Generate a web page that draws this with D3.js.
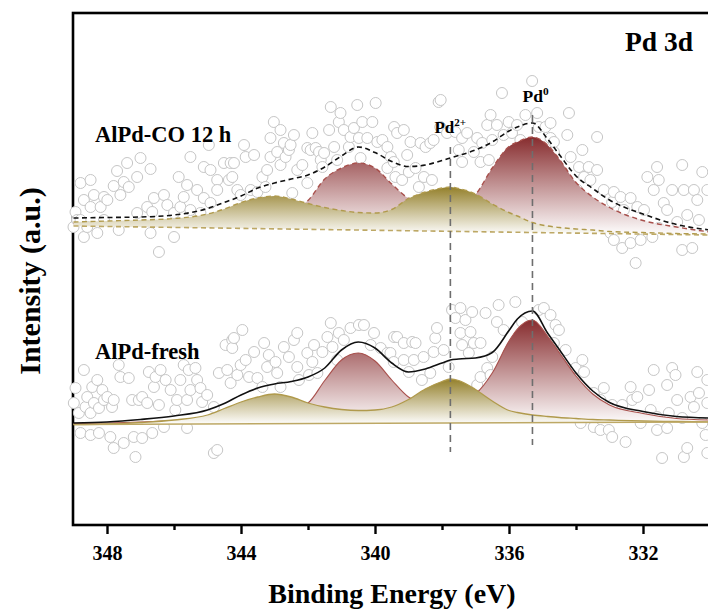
<!DOCTYPE html>
<html>
<head>
<meta charset="utf-8">
<script src="https://cdn.jsdelivr.net/npm/d3@7/dist/d3.min.js"></script>
<style>
  html, body { margin: 0; padding: 0; background: #fff; }
  svg text { font-family: "Liberation Serif", "Times New Roman", serif; font-weight: bold; }
</style>
</head>
<body>
<svg id="chart" width="708" height="615"></svg>
<script>
const fitE = [349, 348, 347, 346, 345, 344.5, 344, 343.5, 343, 342.5, 342, 341.5, 341, 340.5, 340,
  339.5, 339, 338.5, 338, 337.75, 337.5, 337, 336.5, 336, 335.75, 335.3, 334.85, 334.5, 334,
  333.5, 333, 332, 331, 330];

// AlPd-CO 12 h fit (dashed)
const coEnvelope = [61.4, 61.5, 61.6, 62.0, 63.3, 64.5, 65.8, 67.4, 68.4, 69.2, 70.0, 71.6, 73.8, 75.6, 74.5,
  72.7, 71.7, 72.0, 72.9, 73.4, 73.9, 75.0, 76.6, 78.8, 79.6, 80.4, 77.2, 74.1, 69.8, 67.3, 65.0, 62.2, 60.1, 59.0];
const coPd0 = [60.3, 60.4, 60.5, 60.6, 60.7, 60.8, 61.0, 61.3, 61.8, 62.8, 64.9, 69.2, 71.4, 72.4, 71.4,
  68.2, 65.3, 64.0, 63.4, 63.4, 64.0, 66.1, 71.4, 75.7, 76.6, 77.6, 76.0, 73.2, 68.5, 65.6, 63.5, 60.9, 59.6, 58.6];
const coPd2 = [60.6, 60.8, 61.0, 61.3, 62.2, 63.2, 64.5, 65.4, 65.8, 65.2, 64.3, 63.5, 62.9, 62.5, 62.4,
  63.1, 65.3, 66.6, 67.4, 67.6, 67.3, 66.2, 64.2, 62.5, 61.8, 60.5, 59.8, 59.5, 59.2, 59.0, 58.7, 58.5, 58.3, 58.2];
const coBase = [59.8, 58.0];

// AlPd-fresh fit (solid)
const freshEnvelope = [20.4, 20.6, 21.1, 21.8, 23.0, 24.3, 26.0, 27.4, 28.2, 28.7, 29.6, 31.4, 35.0, 36.6, 35.4,
  32.4, 30.6, 31.2, 32.4, 33.0, 33.2, 33.4, 34.5, 38.9, 41.2, 42.8, 38.4, 35.1, 30.4, 26.8, 24.5, 22.7, 21.7, 21.4];
const freshPd0 = [20.3, 20.4, 20.6, 20.9, 21.2, 21.4, 21.7, 22.1, 22.6, 23.2, 24.4, 28.9, 33.0, 34.4, 32.8,
  29.0, 25.6, 24.2, 24.0, 24.2, 24.8, 26.2, 30.4, 36.8, 39.2, 41.0, 37.8, 34.5, 29.8, 26.2, 24.0, 22.3, 21.3, 21.0];
const freshPd2 = [20.1, 20.2, 20.5, 21.0, 22.0, 23.3, 24.6, 25.6, 26.2, 25.6, 24.4, 23.6, 23.1, 22.9, 23.0,
  23.6, 25.1, 27.2, 28.7, 29.2, 28.9, 27.1, 24.8, 22.9, 22.5, 22.0, 21.7, 21.5, 21.3, 21.1, 21.0, 20.8, 20.7, 20.6];
const freshBase = [20.1, 20.6];

// measured points [eV, intensity]
const coPoints = [
  [349.0, 59.6], [348.94, 62.6], [348.89, 61.0], [348.79, 68.4], [348.79, 61.0], [348.69, 65.0], [348.69, 57.6],
  [348.59, 59.6], [348.49, 69.0], [348.49, 63.6], [348.39, 66.0], [348.29, 58.4], [348.19, 63.6], [348.09, 65.6],
  [348.09, 61.0], [347.99, 65.0], [347.8, 67.8], [347.7, 70.8], [347.65, 59.0], [347.6, 66.0], [347.5, 68.6],
  [347.4, 72.4], [347.35, 67.6], [347.1, 62.4], [347.1, 69.6], [347.0, 73.4], [346.8, 63.6], [346.7, 71.2],
  [346.7, 58.4], [346.65, 62.6], [346.6, 65.4], [346.45, 54.6], [346.3, 66.0], [346.2, 64.0], [346.0, 62.4],
  [346.0, 57.6], [345.86, 69.6], [345.81, 63.6], [345.71, 65.6], [345.61, 68.0], [345.51, 73.6], [345.51, 63.0],
  [345.31, 67.0], [345.21, 62.4], [345.11, 71.6], [345.11, 65.4], [344.96, 76.0], [344.91, 71.0], [344.91, 64.4],
  [344.71, 69.0], [344.71, 67.0], [344.51, 72.4], [344.36, 69.0], [344.31, 72.4],
  [344.26, 69.6], [344.21, 72.4], [344.11, 67.0], [344.01, 66.0], [343.91, 76.0], [343.86, 73.6], [343.71, 67.0],
  [343.61, 74.0], [343.51, 66.6], [343.36, 69.6], [343.27, 67.6], [343.22, 71.0], [343.12, 77.4], [343.12, 73.6],
  [343.02, 80.6], [342.92, 74.6], [342.82, 79.0], [342.82, 72.0], [342.72, 76.4], [342.67, 73.6], [342.57, 75.0],
  [342.52, 76.0], [342.47, 66.4], [342.42, 78.0], [342.32, 71.0], [342.17, 72.0], [342.02, 75.4], [342.02, 68.4],
  [341.92, 75.0], [341.87, 78.4], [341.77, 75.4], [341.67, 74.6], [341.62, 73.0], [341.57, 71.6], [341.52, 74.4],
  [341.37, 79.0], [341.32, 83.6], [341.22, 75.6], [341.13, 73.0], [341.08, 80.6], [341.03, 82.4], [340.93, 79.0],
  [340.78, 75.6], [340.73, 77.6], [340.63, 79.4], [340.53, 84.0], [340.48, 77.4], [340.43, 73.4], [340.38, 80.6],
  [340.23, 77.4], [340.08, 80.6], [339.98, 84.4], [339.93, 76.6], [339.78, 77.0], [339.63, 75.6], [339.63, 71.4],
  [339.53, 73.6], [339.43, 79.6],
  [339.44, 72.6], [339.39, 69.6], [339.34, 78.4], [339.19, 69.0], [339.14, 79.0], [339.04, 74.0], [338.99, 70.6],
  [338.94, 76.6], [338.79, 71.4], [338.69, 67.6], [338.64, 76.4], [338.54, 69.6], [338.49, 75.6], [338.35, 76.4],
  [338.3, 69.0], [338.25, 77.0], [338.1, 84.6], [338.05, 79.6], [338.04, 85.0], [337.85, 78.4], [337.6, 78.6],
  [337.5, 75.0], [337.4, 77.4], [337.4, 72.6], [337.25, 78.4], [337.05, 74.6], [336.95, 77.4], [336.85, 72.6],
  [336.8, 76.4], [336.65, 80.0], [336.6, 73.0], [336.55, 82.0], [336.5, 77.0], [336.36, 80.0], [336.21, 86.4],
  [336.16, 78.0], [336.01, 80.6], [335.91, 78.4], [335.76, 80.0], [335.66, 77.0], [335.51, 82.0], [335.31, 88.8],
  [335.16, 82.4], [335.11, 79.6], [334.91, 79.6], [334.76, 77.4], [334.66, 74.6],
  [334.76, 80.4], [334.66, 76.6], [334.26, 78.0], [334.21, 82.4], [334.16, 73.6], [333.96, 67.0], [333.91, 71.6],
  [333.81, 75.0], [333.76, 69.6], [333.62, 71.6], [333.57, 69.0], [333.47, 63.6], [333.37, 77.6], [333.37, 71.0],
  [333.22, 62.4], [333.17, 67.0], [332.97, 58.4], [332.92, 64.6], [332.87, 66.6], [332.87, 57.0], [332.67, 65.6],
  [332.62, 55.4], [332.57, 63.0], [332.37, 65.4], [332.37, 56.4], [332.22, 52.4], [332.17, 63.6], [332.07, 57.0],
  [331.97, 63.0], [331.87, 69.6], [331.72, 57.6], [331.68, 67.0], [331.58, 71.6], [331.53, 69.0], [331.53, 59.4],
  [331.38, 64.4], [331.28, 63.0], [331.13, 67.0], [330.98, 60.6], [330.83, 72.0], [330.83, 55.0], [330.78, 67.0],
  [330.68, 62.0], [330.53, 55.4], [330.48, 67.0], [330.38, 65.0], [330.33, 61.0], [330.23, 70.6], [330.08, 67.0]
];

const freshPoints = [
  [348.99, 24.4], [348.94, 27.4], [348.84, 22.4], [348.79, 18.4], [348.69, 31.0], [348.64, 23.6], [348.59, 25.6],
  [348.49, 22.4], [348.49, 18.0], [348.44, 27.6], [348.39, 24.4], [348.29, 29.0], [348.24, 23.4], [348.24, 18.4],
  [348.14, 27.0], [348.09, 25.0], [347.99, 25.6], [347.9, 17.6], [347.85, 23.6], [347.8, 25.0], [347.8, 15.4],
  [347.65, 32.0], [347.6, 29.6], [347.5, 16.4], [347.35, 29.4], [347.25, 25.0], [347.2, 17.6], [347.15, 13.6],
  [347.05, 25.0], [346.95, 25.6], [346.95, 17.4], [346.8, 24.4], [346.75, 30.6], [346.65, 18.4], [346.6, 27.6],
  [346.55, 29.6], [346.45, 24.0], [346.4, 31.0], [346.3, 19.6], [346.25, 29.0], [346.1, 27.0], [345.96, 23.0],
  [345.91, 25.0], [345.81, 29.0], [345.71, 32.0], [345.61, 25.0], [345.61, 19.4], [345.56, 31.0], [345.51, 27.0],
  [345.36, 31.4], [345.31, 29.0], [345.21, 27.4], [345.16, 24.6], [345.01, 26.0], [344.81, 23.6], [344.81, 14.4],
  [344.71, 15.0], [344.66, 30.4], [344.46, 36.0], [344.41, 31.0], [344.31, 28.4], [344.26, 37.0],
  [344.26, 35.4], [344.21, 37.4], [344.11, 30.0], [344.01, 32.0], [343.96, 39.0], [343.86, 33.0], [343.76, 29.6],
  [343.61, 34.6], [343.51, 29.4], [343.36, 27.6], [343.31, 36.4], [343.22, 31.6], [343.17, 34.0], [342.97, 32.6],
  [342.92, 30.4], [342.82, 27.6], [342.72, 35.6], [342.57, 33.6], [342.42, 37.0], [342.32, 38.4], [342.32, 31.6],
  [342.27, 29.0], [342.02, 34.4], [341.97, 30.0], [341.87, 32.6], [341.82, 36.0], [341.72, 30.4], [341.57, 34.6],
  [341.42, 37.6], [341.32, 40.4], [341.27, 35.6], [341.13, 33.0], [341.08, 38.4], [340.93, 37.0], [340.73, 39.4],
  [340.48, 40.0], [340.33, 40.0], [340.13, 36.0], [340.03, 38.4], [339.83, 35.4], [339.63, 34.4], [339.43, 37.6],
  [339.54, 34.4], [339.44, 32.6], [339.34, 37.6], [339.14, 36.4], [339.14, 33.0], [338.99, 30.6], [338.89, 36.6],
  [338.84, 33.0], [338.79, 36.4], [338.6, 29.0], [338.55, 33.6], [338.35, 30.4], [338.25, 34.6], [338.2, 37.4],
  [338.15, 39.4], [337.95, 35.0], [337.8, 31.6], [337.7, 43.0], [337.6, 41.4], [337.45, 43.4], [337.45, 38.4],
  [337.4, 36.0], [337.3, 41.0], [337.2, 34.4], [337.15, 38.6], [337.1, 42.6], [337.05, 36.4], [336.95, 28.0],
  [336.85, 36.4], [336.85, 29.6], [336.7, 42.4], [336.65, 31.4], [336.55, 30.0], [336.5, 33.6], [336.36, 40.6],
  [336.31, 44.0], [336.16, 39.0], [336.01, 34.4], [335.86, 35.4], [335.81, 44.6], [335.61, 40.6], [335.11, 43.0],
  [334.96, 43.4], [334.76, 42.0], [334.61, 40.0],
  [334.66, 36.4], [334.51, 39.0], [334.31, 35.0], [334.01, 31.4], [333.86, 20.4], [333.81, 33.0], [333.76, 30.6],
  [333.47, 26.4], [333.47, 19.6], [333.27, 25.0], [333.27, 19.0], [333.17, 27.4], [333.02, 19.0], [332.92, 24.0],
  [332.92, 17.6], [332.77, 21.6], [332.62, 24.0], [332.52, 16.6], [332.42, 22.0], [332.37, 27.6], [332.32, 25.0],
  [332.17, 25.6], [332.07, 20.4], [331.82, 27.0], [331.77, 23.0], [331.68, 31.0], [331.58, 21.6], [331.58, 19.0],
  [331.43, 13.4], [331.28, 28.0], [331.28, 19.4], [331.23, 22.4], [331.13, 31.4], [331.03, 30.0], [330.98, 25.0],
  [330.83, 21.4], [330.78, 13.6], [330.68, 15.4], [330.58, 25.6], [330.48, 23.6], [330.38, 30.6], [330.33, 26.4],
  [330.23, 20.4], [330.13, 18.0], [330.08, 29.0], [330.08, 24.4], [330.08, 14.4]
];

const majorTicks = [348, 344, 340, 336, 332];
const minorTicks = [346, 342, 338, 334];
// Pd2+ and Pd0 3d5/2 positions with the vertical extent of the marker lines
const markers = [
  { label: "Pd", sup: "2+", e: 337.75, top: 75.6, bottom: 14.6, labelY: 78.4, shift: -16, size: 17 },
  { label: "Pd", sup: "0", e: 335.3, top: 82.0, bottom: 16.0, labelY: 84.6, shift: -10, size: 17.5 }
];

const W = 708, H = 615;
const plotLeft = 73, plotTop = 13, plotBottom = 525;

const svg = d3.select("#chart");
svg.append("rect").attr("width", W).attr("height", H).attr("fill", "#fff");

const x = d3.scaleLinear().domain([349, 330]).range([73.5, 710]);
const y = d3.scaleLinear().domain([0, 102.4]).range([plotBottom, plotTop]);

// gradients for the component fills
const defs = svg.append("defs");
function gradient(id, color) {
  const g = defs.append("linearGradient").attr("id", id)
    .attr("x1", 0).attr("y1", 0).attr("x2", 0).attr("y2", 1);
  g.append("stop").attr("offset", "0%").attr("stop-color", color);
  g.append("stop").attr("offset", "100%").attr("stop-color", "#ffffff");
}
gradient("gradRed", "#872c2e");
gradient("gradTan", "#94802b");

// frame
svg.append("rect")
  .attr("x", plotLeft).attr("y", plotTop)
  .attr("width", 660).attr("height", plotBottom - plotTop)
  .attr("fill", "none").attr("stroke", "#000").attr("stroke-width", 2.6);

// ticks
const axis = svg.append("g").attr("transform", `translate(0,${plotBottom})`)
  .call(d3.axisBottom(x).tickValues(majorTicks).tickSize(9).tickPadding(12).tickFormat(d3.format("d")));
axis.select(".domain").remove();
axis.selectAll(".tick line").attr("stroke", "#000").attr("stroke-width", 2.4);
axis.selectAll(".tick text").attr("font-size", 20).attr("fill", "#000")
  .style("font-family", "'Liberation Serif', 'Times New Roman', serif").style("font-weight", "bold");

const minor = svg.append("g").attr("transform", `translate(0,${plotBottom})`)
  .call(d3.axisBottom(x).tickValues(minorTicks).tickSize(5).tickFormat(""));
minor.select(".domain").remove();
minor.selectAll(".tick line").attr("stroke", "#000").attr("stroke-width", 2.4);

// measured points
function drawPoints(points) {
  svg.append("g").selectAll("circle").data(points).join("circle")
    .attr("cx", d => x(d[0])).attr("cy", d => y(d[1])).attr("r", 5.5)
    .attr("fill", "#fff").attr("stroke", "#c6c6c6").attr("stroke-width", 1);
}
drawPoints(coPoints);
drawPoints(freshPoints);

// fitted curves
function drawFit(envelope, pd0, pd2, base, dashed) {
  const baseLine = d3.scaleLinear().domain([349, 330]).range(base);
  const rows = (vals) => fitE.map((e, i) => [e, vals[i]]);
  const line = d3.line().x(d => x(d[0])).y(d => y(d[1])).curve(d3.curveMonotoneX);
  const area = d3.area().x(d => x(d[0])).y0(d => y(baseLine(d[0]))).y1(d => y(d[1])).curve(d3.curveMonotoneX);
  const dash = dashed ? "5,3.5" : null;
  const g = svg.append("g");

  g.append("path").attr("d", area(rows(pd0))).attr("fill", "url(#gradRed)");
  g.append("path").attr("d", line(rows(pd0))).attr("fill", "none")
    .attr("stroke", "#a8504c").attr("stroke-width", dashed ? 1.4 : 1.1).attr("stroke-dasharray", dash);

  g.append("path").attr("d", area(rows(pd2))).attr("fill", "url(#gradTan)");
  g.append("path").attr("d", line(rows(pd2))).attr("fill", "none")
    .attr("stroke", "#b09a4c").attr("stroke-width", dashed ? 1.4 : 1.3).attr("stroke-dasharray", dash);

  g.append("line")
    .attr("x1", x(349)).attr("x2", x(330))
    .attr("y1", y(base[0])).attr("y2", y(base[1]))
    .attr("stroke", "#bda865").attr("stroke-width", 1.6).attr("stroke-dasharray", dash);

  g.append("path").attr("d", line(rows(envelope))).attr("fill", "none")
    .attr("stroke", "#111").attr("stroke-width", 1.6).attr("stroke-dasharray", dash);
}
drawFit(coEnvelope, coPd0, coPd2, coBase, true);
drawFit(freshEnvelope, freshPd0, freshPd2, freshBase, false);

// Pd2+ / Pd0 markers
markers.forEach(m => {
  svg.append("line")
    .attr("x1", x(m.e)).attr("x2", x(m.e))
    .attr("y1", y(m.top)).attr("y2", y(m.bottom))
    .attr("stroke", "#6e6e6e").attr("stroke-width", 1.6).attr("stroke-dasharray", "7,5");
  const t = svg.append("text")
    .attr("x", x(m.e) + m.shift).attr("y", y(m.labelY))
    .attr("font-size", m.size).attr("fill", "#000");
  t.append("tspan").text(m.label);
  t.append("tspan").attr("dy", -7).attr("font-size", m.size * 0.65).text(m.sup);
});

// texts
svg.append("text").attr("x", 625).attr("y", 51).attr("font-size", 27.5).text("Pd 3d");
svg.append("text").attr("x", 95).attr("y", 142).attr("font-size", 22.5).text("AlPd-CO 12 h");
svg.append("text").attr("x", 95).attr("y", 359).attr("font-size", 22.5).text("AlPd-fresh");

svg.append("text").attr("x", 392).attr("y", 603).attr("text-anchor", "middle")
  .attr("font-size", 28).text("Binding Energy (eV)");
svg.append("text").attr("transform", "translate(40,281) rotate(-90)").attr("text-anchor", "middle")
  .attr("font-size", 30).text("Intensity (a.u.)");
</script>
</body>
</html>
